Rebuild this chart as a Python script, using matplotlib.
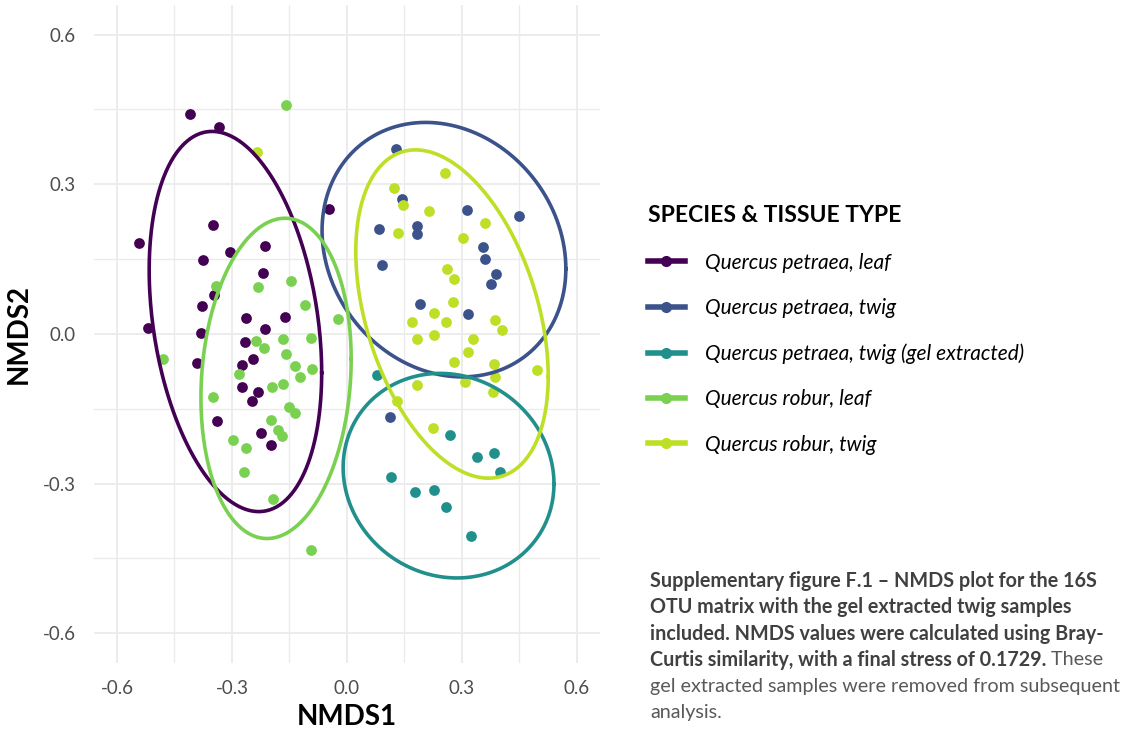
import numpy as np
import matplotlib
matplotlib.use("Agg")
import matplotlib.pyplot as plt
from matplotlib.lines import Line2D

# ---------- data (NMDS scores) ----------
labels = ["Quercus petraea, leaf", "Quercus petraea, twig",
          "Quercus petraea, twig (gel extracted)", "Quercus robur, leaf",
          "Quercus robur, twig"]
colors = ["#440154", "#3B528B", "#21908C", "#7AD151", "#BDDF26"]

petraea_leaf_x = [-0.410, -0.333, -0.048, -0.350, -0.542, -0.305, -0.215, -0.375, -0.218,
                  -0.346, -0.377, -0.518, -0.264, -0.161, -0.381, -0.214, -0.265, -0.390,
                  -0.245, -0.275, -0.273, -0.231, -0.247, -0.339, -0.225, -0.198]
petraea_leaf_y = [0.441, 0.415, 0.251, 0.218, 0.182, 0.164, 0.177, 0.148, 0.123,
                  0.078, 0.056, 0.011, 0.033, 0.035, 0.001, 0.009, -0.016, -0.058,
                  -0.051, -0.063, -0.106, -0.117, -0.135, -0.175, -0.198, -0.222]

petraea_twig_x = [0.128, 0.143, 0.313, 0.449, 0.083, 0.183, 0.183, 0.355, 0.360,
                  0.092, 0.389, 0.377, 0.190, 0.316, 0.113]
petraea_twig_y = [0.371, 0.271, 0.248, 0.236, 0.210, 0.216, 0.200, 0.175, 0.151,
                  0.138, 0.120, 0.100, 0.061, 0.041, -0.167]

petraea_gel_x = [0.078, 0.268, 0.338, 0.383, 0.400, 0.116, 0.178, 0.226, 0.258, 0.323]
petraea_gel_y = [-0.083, -0.202, -0.247, -0.239, -0.276, -0.286, -0.317, -0.313, -0.347, -0.404]

robur_leaf_x = [-0.160, -0.147, -0.342, -0.232, -0.110, -0.023, -0.237, -0.217, -0.167,
                -0.094, -0.479, -0.158, -0.136, -0.090, -0.281, -0.123, -0.196, -0.168,
                -0.349, -0.151, -0.136, -0.198, -0.179, -0.170, -0.298, -0.264, -0.269,
                -0.192, -0.094]
robur_leaf_y = [0.459, 0.106, 0.096, 0.094, 0.058, 0.031, -0.015, -0.028, -0.011,
                -0.009, -0.050, -0.041, -0.065, -0.071, -0.080, -0.086, -0.106, -0.100,
                -0.127, -0.146, -0.159, -0.172, -0.192, -0.205, -0.212, -0.228, -0.276,
                -0.330, -0.433]

robur_twig_x = [-0.234, 0.257, 0.123, 0.146, 0.215, 0.359, 0.134, 0.303, 0.261, 0.279,
                0.277, 0.228, 0.170, 0.259, 0.386, 0.404, 0.183, 0.228, 0.330, 0.317,
                0.280, 0.383, 0.495, 0.385, 0.183, 0.308, 0.380, 0.130, 0.224]
robur_twig_y = [0.365, 0.323, 0.293, 0.259, 0.246, 0.222, 0.203, 0.192, 0.130, 0.110,
                0.064, 0.043, 0.025, 0.023, 0.029, 0.007, -0.011, -0.002, -0.011, -0.037,
                -0.057, -0.061, -0.073, -0.087, -0.103, -0.097, -0.116, -0.134, -0.189]

# 95% ellipses: centre, half-extent in x and y, correlation
ell_cx = [-0.291, 0.253, 0.265, -0.185, 0.274]
ell_cy = [0.025, 0.169, -0.284, -0.089, 0.040]
ell_sx = [0.225, 0.318, 0.275, 0.196, 0.251]
ell_sy = [0.381, 0.255, 0.205, 0.321, 0.329]
ell_r = [-0.27, -0.15, -0.08, 0.12, -0.38]

xs = [petraea_leaf_x, petraea_twig_x, petraea_gel_x, robur_leaf_x, robur_twig_x]
ys = [petraea_leaf_y, petraea_twig_y, petraea_gel_y, robur_leaf_y, robur_twig_y]

plt.rcParams['font.family'] = ['Lato', 'DejaVu Sans']
plt.rcParams['axes.unicode_minus'] = False


def ellipse_xy(cx, cy, sx, sy, r, n=300):
    t = np.linspace(0, 2 * np.pi, n)
    m = np.array([[sx * sx, r * sx * sy], [r * sx * sy, sy * sy]])
    L = np.linalg.cholesky(m)
    p = L @ np.vstack([np.cos(t), np.sin(t)])
    return cx + p[0], cy + p[1]


fig = plt.figure(figsize=(11.35, 7.3), dpi=100)
ax = fig.add_axes([0.0828, 0.0914, 0.4458, 0.9022])

for x, y, c in zip(xs, ys, colors):
    ax.scatter(x, y, s=60, color=c, linewidths=0, zorder=3)

for i, c in enumerate(colors):
    ex, ey = ellipse_xy(ell_cx[i], ell_cy[i], ell_sx[i], ell_sy[i], ell_r[i])
    ax.plot(ex, ey, color=c, lw=2.6, zorder=4)

ax.set_xlim(-0.66, 0.66)
ax.set_ylim(-0.66, 0.66)
ticks = [-0.6, -0.3, 0.0, 0.3, 0.6]
ax.set_xticks(ticks)
ax.set_yticks(ticks)
ax.set_xticklabels([f"{t:.1f}" for t in ticks])
ax.set_yticklabels([f"{t:.1f}" for t in ticks])
ax.set_xticks([-0.45, -0.15, 0.15, 0.45], minor=True)
ax.set_yticks([-0.45, -0.15, 0.15, 0.45], minor=True)
ax.grid(which='major', color='#ebebeb', lw=1.3)
ax.grid(which='minor', color='#ebebeb', lw=1.0)
ax.set_axisbelow(True)
ax.tick_params(which='both', length=0, labelsize=13.5, labelcolor='#4d4d4d')
ax.tick_params(axis='x', pad=12)
ax.tick_params(axis='y', pad=13)
for s in ax.spines.values():
    s.set_visible(False)

ax.set_xlabel("NMDS1", fontsize=20, fontweight='bold', labelpad=5)
ax.set_ylabel("NMDS2", fontsize=20, fontweight='bold', labelpad=8)

handles = [Line2D([0], [0], color=c, lw=4, marker='o', markersize=7) for c in colors]
leg = ax.legend(handles, labels, loc='upper left', bbox_to_anchor=(0.571, 0.719),
                bbox_transform=fig.transFigure, frameon=False, borderpad=0,
                borderaxespad=0, handlelength=1.75, handletextpad=1.0,
                labelspacing=1.22, alignment='left',
                prop={'size': 15, 'style': 'italic'},
                title="SPECIES & TISSUE TYPE",
                title_fontproperties={'size': 16.5, 'weight': 'bold'})
leg._legend_box.sep = 19

# ---------- caption ----------
bold_lines = ["Supplementary figure F.1 \u2013 NMDS plot for the 16S",
              "OTU matrix with the gel extracted twig samples",
              "included. NMDS values were calculated using Bray-",
              "Curtis similarity, with a final stress of 0.1729."]
plain_lines = ["gel extracted samples were removed from subsequent", "analysis."]
x0 = 650 / 1135
y0 = 1 - 581 / 730
step = 26.3 / 730
last = None
for i, line in enumerate(bold_lines):
    last = fig.text(x0, y0 - i * step, line, fontsize=14.2, fontweight='bold',
                    color='#404040', va='center')
ax.annotate(" These", xy=(1, 0.5), xycoords=last, va='center', ha='left',
            fontsize=14.2, color='#595959')
for j, line in enumerate(plain_lines):
    fig.text(x0, y0 - (len(bold_lines) + j) * step, line, fontsize=14.2,
             color='#595959', va='center')

fig.savefig("out.png", dpi=100)
